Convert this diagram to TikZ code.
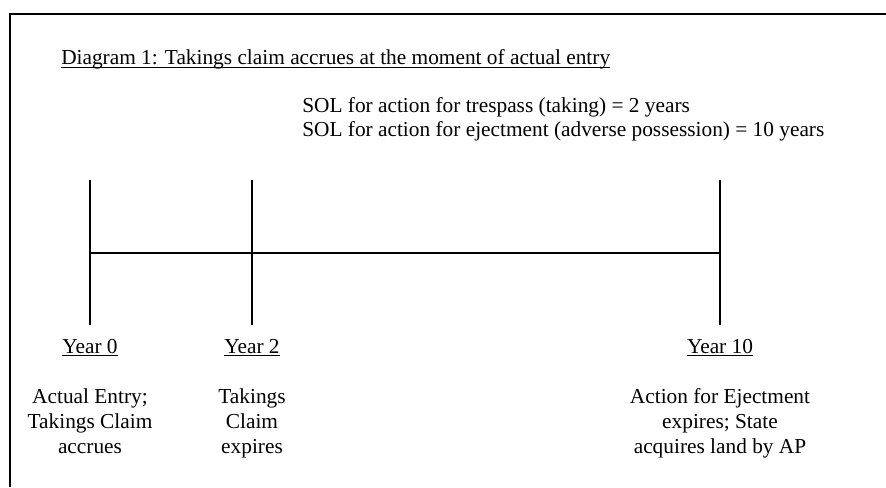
\documentclass[tikz,border=0pt]{standalone}
\usepackage{fontspec}
\setmainfont{Liberation Serif}
\newcommand\uln[1]{\setbox0\hbox{#1}\rlap{\vrule height -1.8pt depth 2.55pt width \wd0}\box0}
\usetikzlibrary{positioning}
\tikzset{
	frame/.style = {line width=1.5pt},
	tick/.style = {line width=1.3pt},
	axis/.style = {line width=1.1pt},
	label/.style = {font=\fontsize{16}{18.4}\selectfont, inner sep=0pt},
	year/.style = {label, anchor=base},
	note/.style = {label, align=center, anchor=base}
}

\begin{document}
\begin{tikzpicture}[x=0.75pt, y=-0.75pt]
    \useasboundingbox (0,0) rectangle (886,487);
    % frame, only the top and left edges show
    \coordinate (fbot) at (9.5,487);
    \coordinate (fcorner) at (9.5,13.5);
    \coordinate (fright) at (886,13.5);
    \draw [frame] (fbot) -- (fcorner) -- (fright);

    % heading and the two limitation periods
    \node [label, anchor=base west] (title) at (61,64.5) {\uln{Diagram 1: Takings claim accrues at the moment of actual entry}};
    \node [label, anchor=base west] (sol1) at (302,112) {SOL for action for trespass (taking) = 2 years};
    \node [label, anchor=base west] (sol2) at (302,136) {SOL for action for ejectment (adverse possession) = 10 years};

    % ticks of the time line
    \coordinate (t0top) at (90,180);   \coordinate (t0bot) at (90,325);
    \coordinate (t2top) at (252,180);  \coordinate (t2bot) at (252,325);
    \coordinate (t10top) at (720,180); \coordinate (t10bot) at (720,325);
    \coordinate (t0) at (90,253);
    \coordinate (t10) at (720,253);
    \draw [tick] (t0top) -- (t0bot);
    \draw [tick] (t2top) -- (t2bot);
    \draw [tick] (t10top) -- (t10bot);
    \draw [axis] (t0) -- (t10);

    % years and what happens then (notes sit on their last line)
    \node [year] (year0) at (90,353) {\uln{Year 0}};
    \node [year] (year2) at (252,353) {\uln{Year 2}};
    \node [year] (year10) at (720,353) {\uln{Year 10}};
    \node [note] (entry) at (90,453) {Actual Entry;\\Takings Claim\\accrues};
    \node [note] (expiry) at (252,453) {Takings\\Claim\\expires};
    \node [note] (ejectment) at (720,453) {Action for Ejectment\\expires; State\\acquires land by AP};
\end{tikzpicture}
\end{document}
